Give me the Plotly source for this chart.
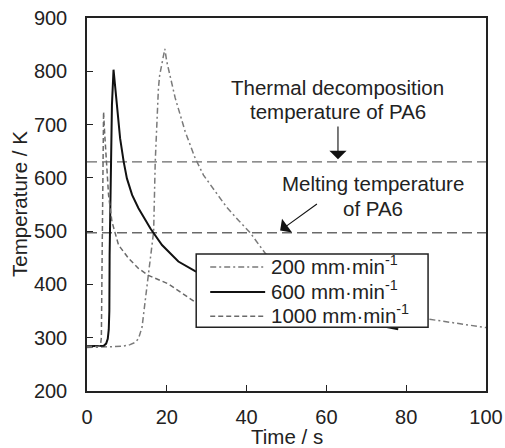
import plotly.graph_objects as go

# ---- data ----
t_200 = [0, 3, 6.7, 9, 10.8, 12.0, 12.9, 13.8, 14.6, 15.4, 16.0, 16.7, 17.1, 17.5, 17.9,
         18.2, 18.4, 19.2, 19.5, 20.0, 21.0, 22.1, 24.6, 27.1, 29.2, 32.0, 35.0, 38.0, 40.9,
         44.7, 50, 60, 70, 80, 85.5, 100]
T_200 = [281.5, 282, 282.7, 284, 287, 291, 298, 320, 370, 421, 455, 499, 630, 706, 768,
         792, 800, 831, 842, 818, 784, 750, 687, 637, 605, 575, 545, 520, 497,
         458, 432, 394, 365, 344, 335, 319]

t_600 = [0, 3, 4.2, 4.8, 5.2, 5.45, 5.6, 5.67, 6.0, 6.25, 6.65, 7.1, 7.5, 8.3, 9.2, 10.0,
         11.3, 12.9, 15.9, 18.8, 22.9, 27.1, 35, 45, 55, 65, 78]
T_600 = [284, 284, 285, 289, 298, 315, 350, 455, 643, 737, 803, 768, 724, 674, 630, 599,
         568, 543, 505, 474, 443, 425, 400, 375, 352, 335, 316]

t_1000 = [0, 2.5, 3.0, 3.4, 3.6, 3.75, 3.9, 4.15, 4.4, 4.85, 5.4, 6.25, 7.0, 7.9, 10.4,
          12.9, 15.4, 20.4, 27.1, 35]
T_1000 = [283, 283, 284, 287, 300, 420, 620, 724, 687, 630, 568, 518, 497, 474, 449,
          430, 417, 401, 367, 350]

series_names = ["200 mm·min<sup>-1</sup>", "600 mm·min<sup>-1</sup>", "1000 mm·min<sup>-1</sup>"]
series_colors = ["#7a7a7a", "#111111", "#6a6a6a"]
series_widths = [1.5, 2, 1.5]
series_dash = ["6px,3px,2px,3px", "solid", "5px,3px"]

decomp_T = 630
melt_T = 497
x_ticks = [0, 20, 40, 60, 80, 100]
y_ticks = [200, 300, 400, 500, 600, 700, 800, 900]
x_title = "Time / s"
y_title = "Temperature / K"

FONT = "Liberation Sans, Arial, sans-serif"
TXT = "#222222"

fig = go.Figure()

# reference temperature lines
for yv in (decomp_T, melt_T):
    fig.add_trace(go.Scatter(x=[0, 100], y=[yv, yv], mode="lines",
                             line=dict(color="#6a6a6a", width=1.3, dash="10px,5px"),
                             showlegend=False, hoverinfo="skip"))

for tx, ty, nm, c, w, d in zip([t_200, t_600, t_1000], [T_200, T_600, T_1000],
                               series_names, series_colors, series_widths, series_dash):
    fig.add_trace(go.Scatter(x=tx, y=ty, mode="lines", name=nm, showlegend=False,
                             line=dict(color=c, width=w, dash=d)))

fig.update_layout(
    width=505, height=448,
    margin=dict(l=87, r=19, t=18, b=57),
    paper_bgcolor="white", plot_bgcolor="white",
    font=dict(family=FONT, size=20, color=TXT),
    showlegend=False,
)

fig.update_xaxes(range=[0, 100], tickvals=x_ticks, ticks="inside", ticklen=6,
                 tickcolor=TXT, showline=True, linecolor=TXT, linewidth=1.5,
                 mirror=True, showgrid=False, zeroline=False, automargin=False,
                 ticklabelstandoff=7)
fig.update_yaxes(range=[200, 900], tickvals=y_ticks, ticks="inside", ticklen=6,
                 tickcolor=TXT, showline=True, linecolor=TXT, linewidth=1.5,
                 mirror=True, showgrid=False, zeroline=False, automargin=False,
                 ticklabelstandoff=14)

# axis titles
fig.add_annotation(xref="paper", yref="paper", x=0.5, y=0, text=x_title, showarrow=False,
                   xanchor="center", yanchor="middle", yshift=-45.5,
                   font=dict(size=20.5, color=TXT))
fig.add_annotation(xref="paper", yref="paper", x=0, y=0.5, text=y_title, showarrow=False,
                   xanchor="center", yanchor="middle", xshift=-67.5, textangle=-90,
                   font=dict(size=20.5, color=TXT))

# legend box drawn above the curves (paper coordinates)
lg_x0, lg_x1, lg_y0, lg_y1 = 0.2737, 0.8548, 0.171, 0.3671
fig.add_shape(type="rect", xref="paper", yref="paper", x0=lg_x0, x1=lg_x1, y0=lg_y0, y1=lg_y1,
              line=dict(color=TXT, width=1.5), fillcolor="white", layer="above")
row_y = [0.3322, 0.2651, 0.2007]
for ry, nm, c, w, d in zip(row_y, series_names, series_colors, series_widths, series_dash):
    fig.add_shape(type="line", xref="paper", yref="paper", x0=0.3088, x1=0.4465, y0=ry, y1=ry,
                  line=dict(color=c, width=w, dash=d), layer="above")
    fig.add_annotation(xref="paper", yref="paper", x=0.455, y=ry, text=nm, showarrow=False,
                       xanchor="left", yanchor="middle", yshift=2,
                       font=dict(size=20.5, color=TXT))

# text labels
fig.add_annotation(x=62.9, y=769, text="Thermal decomposition", showarrow=False,
                   font=dict(size=20.5))
fig.add_annotation(x=62.9, y=724, text="temperature of PA6", showarrow=False,
                   font=dict(size=20.5))
fig.add_annotation(x=71.6, y=588.5, text="Melting temperature", showarrow=False,
                   font=dict(size=20.5))
fig.add_annotation(x=71.6, y=543, text="of PA6", showarrow=False, font=dict(size=20.5))

# arrows
fig.add_annotation(x=62.9, y=635, ax=62.9, ay=699, xref="x", yref="y", axref="x", ayref="y",
                   text="", showarrow=True, arrowhead=1, arrowsize=2.6, arrowwidth=1.1,
                   arrowcolor="#111111")
fig.add_annotation(x=48.4, y=501, ax=58, ay=553, xref="x", yref="y", axref="x", ayref="y",
                   text="", showarrow=True, arrowhead=1, arrowsize=2.6, arrowwidth=1.1,
                   arrowcolor="#111111")

fig.write_html("out.html")
